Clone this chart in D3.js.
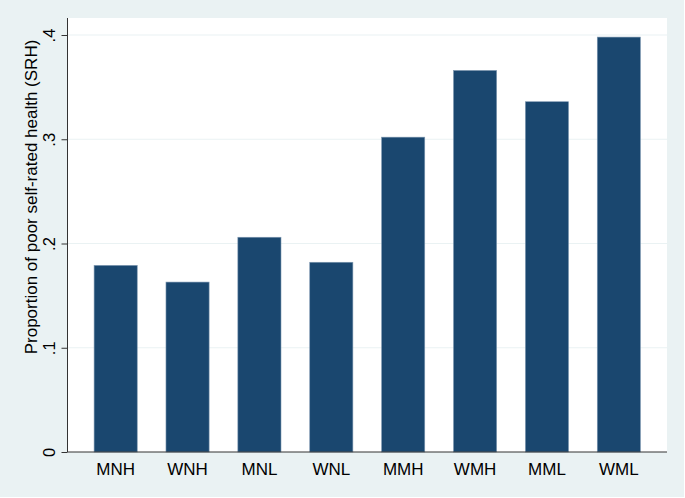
<!DOCTYPE html>
<html>
<head>
<meta charset="utf-8">
<script src="https://cdn.jsdelivr.net/npm/d3@7"></script>
<style>
  html, body { margin: 0; padding: 0; background: #ffffff; }
  svg { display: block; }
</style>
</head>
<body>
<script>
const categories = ["MNH", "WNH", "MNL", "WNL", "MMH", "WMH", "MML", "WML"];
const values = [0.179, 0.163, 0.206, 0.182, 0.302, 0.366, 0.336, 0.398];
const yTicks = [0, 0.1, 0.2, 0.3, 0.4];
const yTickLabels = ["0", ".1", ".2", ".3", ".4"];
const yTitle = "Proportion of poor self-rated health (SRH)";

const W = 685, H = 498;
const plot = { left: 67.5, right: 667, top: 18, bottom: 452 };

const svg = d3.select("body").append("svg").attr("width", W).attr("height", H);

svg.append("rect").attr("x", 0).attr("y", 0).attr("width", W - 1).attr("height", H - 1)
  .attr("fill", "#eaf2f3");

svg.append("rect").attr("x", plot.left).attr("y", plot.top)
  .attr("width", plot.right - plot.left).attr("height", plot.bottom - plot.top)
  .attr("fill", "#ffffff");

const y = d3.scaleLinear().domain([0, 0.4]).range([452, 35]);
const x = d3.scaleBand().domain(categories).range([plot.left, plot.right])
  .paddingInner(0.4).paddingOuter(0.37);

// gridlines
svg.append("g").selectAll("line").data(yTicks.filter(d => d > 0)).join("line")
  .attr("x1", plot.left).attr("x2", plot.right)
  .attr("y1", d => y(d)).attr("y2", d => y(d))
  .attr("stroke", "#eaf2f3").attr("stroke-width", 1.2);

// bars
svg.append("g").selectAll("rect").data(categories).join("rect")
  .attr("x", d => x(d))
  .attr("width", x.bandwidth())
  .attr("y", (d, i) => y(values[i]))
  .attr("height", (d, i) => y(0) - y(values[i]))
  .attr("fill", "#1a476f")
  .attr("stroke", "#7d97b0").attr("stroke-width", 0.6);

// y axis
const yAxis = d3.axisLeft(y).tickValues(yTicks)
  .tickFormat((d, i) => yTickLabels[i]).tickSize(6).tickPadding(6);
const gy = svg.append("g").attr("transform", `translate(${plot.left},0)`).call(yAxis);
gy.select(".domain").attr("stroke", "#333").attr("d", `M0,${plot.top}V${plot.bottom}`);
gy.selectAll(".tick line").attr("stroke", "#333");
gy.selectAll(".tick text")
  .attr("font-family", "Liberation Sans, Arial, sans-serif")
  .attr("font-size", 16.5).attr("fill", "#000")
  .attr("transform", "rotate(-90)")
  .attr("x", 0).attr("y", -12.5)
  .attr("text-anchor", "middle").attr("dy", 0);

// x axis
const xAxis = d3.axisBottom(x).tickSize(0).tickPadding(11);
const gx = svg.append("g").attr("transform", `translate(0,${plot.bottom})`).call(xAxis);
gx.select(".domain").attr("stroke", "#333").attr("d", `M${plot.left},0H${plot.right}`);
gx.selectAll(".tick text")
  .attr("font-family", "Liberation Sans, Arial, sans-serif")
  .attr("font-size", 17).attr("fill", "#000");

// y title
svg.append("text")
  .attr("transform", `translate(36.5,197) rotate(-90)`)
  .attr("text-anchor", "middle")
  .attr("font-family", "Liberation Sans, Arial, sans-serif")
  .attr("font-size", 17).attr("fill", "#000")
  .text(yTitle);
</script>
</body>
</html>
